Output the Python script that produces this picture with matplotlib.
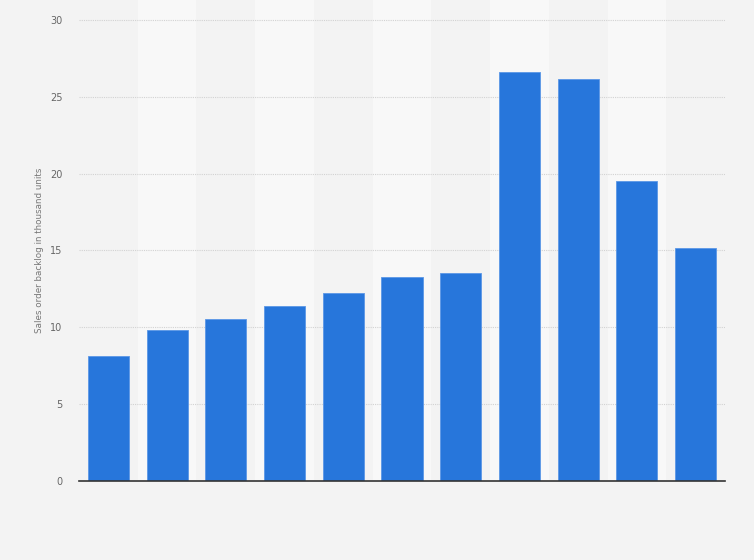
import numpy as np
import matplotlib
matplotlib.use("Agg")
import matplotlib.pyplot as plt

# Sales order backlog (thousand units), 11 periods, no category labels shown
positions = list(range(11))
backlog = [8.13, 9.82, 10.55, 11.4, 12.25, 13.3, 13.55, 26.6, 26.15, 19.55, 15.15]
yticks = [0, 5, 10, 15, 20, 25, 30]

bg = '#f3f3f3'
band = '#f8f8f8'
bar_color = '#2776db'

fig = plt.figure(figsize=(7.54, 5.6), dpi=100, facecolor=bg)
ax = fig.add_axes([79/754, 79/560, 646/754, 481/560])
ax.set_facecolor(bg)

# alternating lighter bands behind odd slots
for i in positions:
    if i % 2 == 1:
        ax.axvspan(i - 0.5, i + 0.5, color=band, zorder=0, lw=0)

ax.bar(positions, backlog, width=0.7, color=bar_color, edgecolor='#5b97e6',
       linewidth=0.6, zorder=3)

ax.set_xlim(-0.5, 10.5)
ax.set_ylim(0, 31.3)
ax.set_yticks(yticks)
ax.set_yticklabels([str(v) for v in yticks], fontsize=7, color='#666666')
ax.set_xticks([])
ax.tick_params(axis='y', length=0, pad=12)
for y in yticks[1:]:
    ax.axhline(y, color='#d2d2d2', lw=0.8, ls=(0, (1, 1)), zorder=1)

for s in ['top', 'right', 'left']:
    ax.spines[s].set_visible(False)
ax.spines['bottom'].set_color('#333333')
ax.spines['bottom'].set_linewidth(1.2)
ax.spines['bottom'].set_zorder(4)

ax.set_ylabel('Sales order backlog in thousand units', fontsize=6.3, color='#777777')
ax.yaxis.set_label_coords(-0.054, 0.48)

plt.savefig('out.png', dpi=100, facecolor=bg)
